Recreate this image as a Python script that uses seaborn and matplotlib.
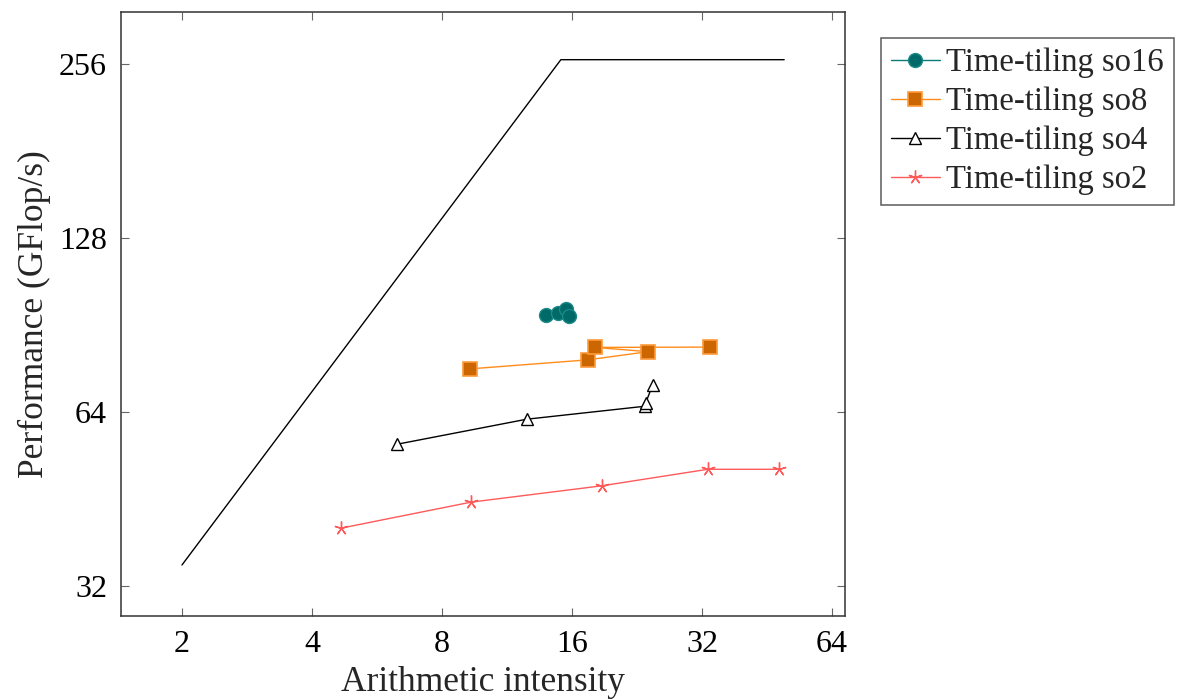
import numpy as np
import pandas as pd
import matplotlib
matplotlib.use("Agg")
import matplotlib.pyplot as plt
import seaborn as sns
from matplotlib.ticker import FixedLocator, FixedFormatter, NullLocator

# ---- data ----
roof_x = [2.0, 15.08, 49.6]
roof_y = [34.8, 260.5, 260.5]

so16_x = [13.93, 14.83, 15.47, 15.75]
so16_y = [94.1, 95.1, 96.5, 93.8]

so8_x = [9.27, 17.42, 24.0, 18.11, 33.4]
so8_y = [76.0, 78.8, 81.4, 82.8, 82.9]

so4_x = [6.30, 12.57, 23.62, 23.71, 24.6]
so4_y = [56.3, 62.2, 65.5, 66.4, 71.3]

so2_x = [4.67, 9.34, 18.74, 33.0, 48.2]
so2_y = [40.3, 44.7, 47.7, 50.95, 50.95]

x_ticks = [2, 4, 8, 16, 32, 64]
y_ticks = [32, 64, 128, 256]

sns.set_theme(style="white")
plt.rcParams['font.family'] = ['Liberation Serif', 'DejaVu Serif']

fig = plt.figure(figsize=(11.83, 6.99), dpi=100)
ax = fig.add_axes([121/1183, 1-616/699, (845-121)/1183, (616-12)/699])

def df(x, y):
    return pd.DataFrame({"x": x, "y": y})

sns.lineplot(data=df(roof_x, roof_y), x="x", y="y", ax=ax, color="black",
             lw=1.0, sort=False, estimator=None, legend=False)

series = [
    ("Time-tiling so16", so16_x, so16_y, dict(color="#0A7B78", marker="o", ms=10,
        mfc="#006A68", mec="#1A8A88", mew=1.0)),
    ("Time-tiling so8", so8_x, so8_y, dict(color="#FF8C1A", marker="s", ms=10,
        mfc="#CC6600", mec="#FF9A3A", mew=1.2)),
    ("Time-tiling so4", so4_x, so4_y, dict(color="black", marker="^", ms=8,
        mfc="white", mec="black", mew=1.0)),
    ("Time-tiling so2", so2_x, so2_y, dict(color="#FF5A5A", marker=(5, 2, 0), ms=10,
        mfc="#FF5A5A", mec="#FF5A5A", mew=1.0)),
]
for label, xs, ys, st in series:
    sns.lineplot(data=df(xs, ys), x="x", y="y", ax=ax, sort=False, estimator=None,
                 lw=1.0, legend=False, label=label, **st)

ax.set_xscale("log", base=2)
ax.set_yscale("log", base=2)
ax.set_xlim(1.445, 68.6)
ax.set_ylim(28.4, 315)

ax.xaxis.set_major_locator(FixedLocator(x_ticks))
ax.xaxis.set_major_formatter(FixedFormatter([str(v) for v in x_ticks]))
ax.yaxis.set_major_locator(FixedLocator(y_ticks))
ax.yaxis.set_major_formatter(FixedFormatter([str(v) for v in y_ticks]))
ax.xaxis.set_minor_locator(NullLocator())
ax.yaxis.set_minor_locator(NullLocator())

ax.tick_params(axis="both", which="major", direction="in", length=6, width=0.8,
               color="#666666", labelsize=23, top=True, right=True, bottom=True, left=True,
               labelcolor="black", pad=10)
for s in ax.spines.values():
    s.set_color("#333333")
    s.set_linewidth(1.1)

ax.set_xlabel("Arithmetic intensity", fontsize=25.5)
ax.set_ylabel("Performance (GFlop/s)", fontsize=25.5)
ax.xaxis.set_label_coords(0.5, -0.083)
ax.yaxis.set_label_coords(-0.097, 0.5)
ax.grid(False)

leg = ax.legend(loc="upper left", bbox_to_anchor=(881/1183, 1-38/699),
                bbox_transform=fig.transFigure, fontsize=23.5, frameon=True,
                fancybox=False, edgecolor="#333333", borderaxespad=0,
                handlelength=1.5, handletextpad=0.2, labelspacing=0.26,
                borderpad=0.3)
leg.get_frame().set_linewidth(1.1)

fig.savefig("out.png", dpi=100)
